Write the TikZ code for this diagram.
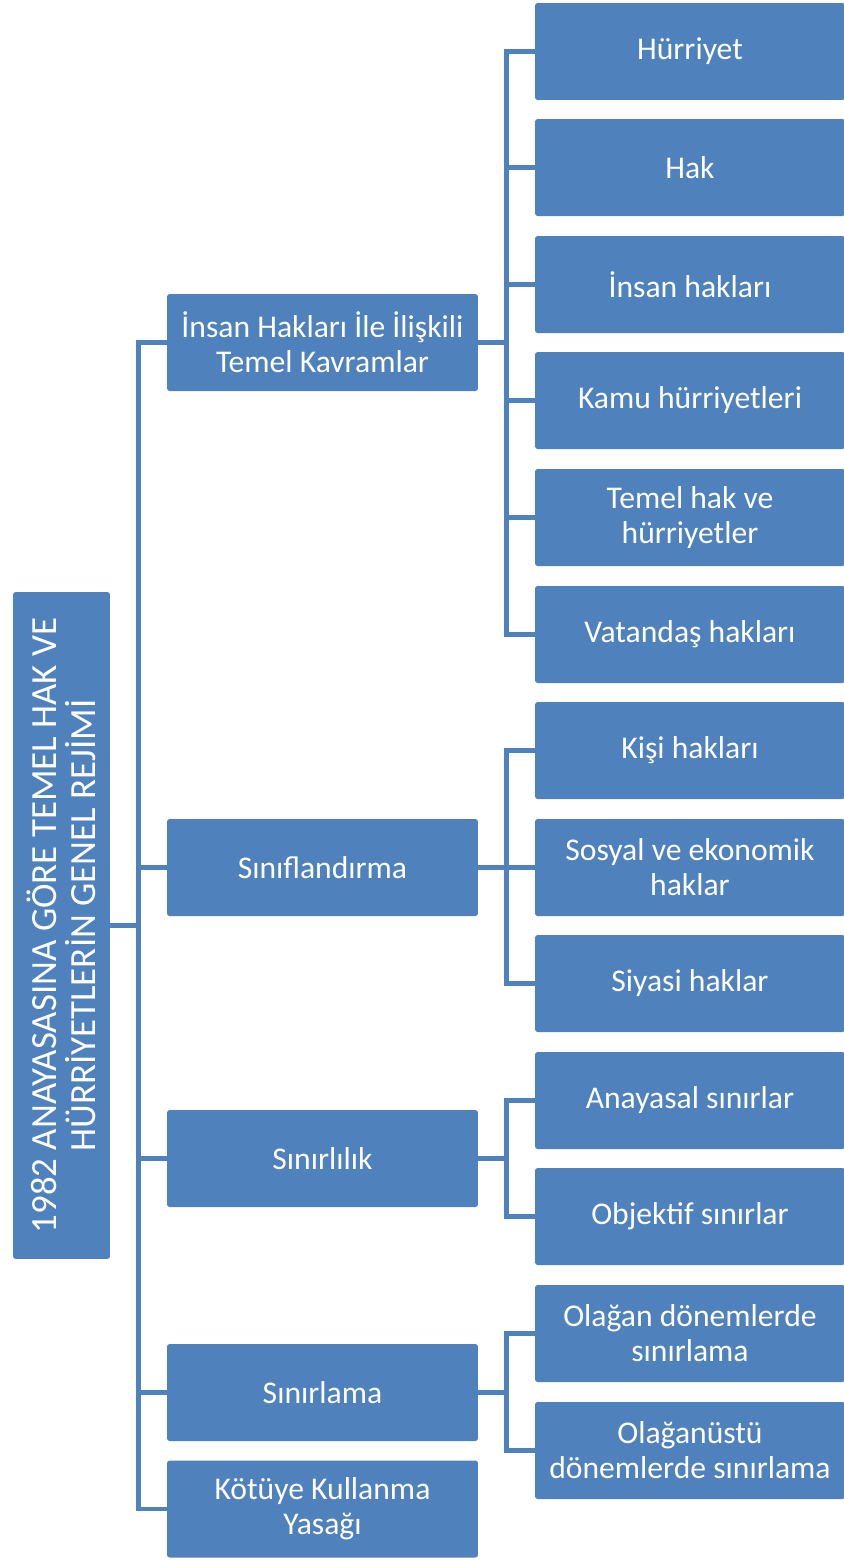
\documentclass[tikz,border=0pt]{standalone}
\usepackage{fontspec}
\setmainfont{Carlito}
\usetikzlibrary{calc}
\definecolor{boxCol}{HTML}{4F81BD}
\definecolor{edgeColor}{HTML}{4F81BD}
\tikzstyle{box}=[fill=boxCol, text=white, rounded corners=1.5pt, align=center, inner sep=0pt, font=\fontsize{18}{19.8}\selectfont]
\tikzstyle{topic}=[box, minimum width=6.22cm, minimum height=1.94cm]
\tikzstyle{leaf}=[box, minimum width=6.2cm, minimum height=1.94cm]
\tikzstyle{connection}=[line width=2.4pt, draw=edgeColor]

\begin{document}
\begin{tikzpicture}[x=0.02cm, y=-0.02cm]
    \useasboundingbox (0,0) rectangle (843,1560);

    % === ROOT ===
    \node[box, rotate=90, minimum width=13.34cm, minimum height=1.94cm, font=\fontsize{21}{22.5}\selectfont] (root) at (61.5,925.5)
        {1982 ANAYASASINA GÖRE TEMEL HAK VE\\HÜRRİYETLERİN GENEL REJİMİ};

    % === TOPICS ===
    \node[topic] (kavram)     at (322.5,342.5)  {İnsan Hakları İle İlişkili\\Temel Kavramlar};
    \node[topic] (sinif)      at (322.5,867.5)  {Sınıflandırma};
    \node[topic] (sinirlilik) at (322.5,1158.5) {Sınırlılık};
    \node[topic] (sinirlama)  at (322.5,1392.5) {Sınırlama};
    \node[topic] (kotuye)     at (322.5,1509)   {Kötüye Kullanma\\Yasağı};

    % === LEAVES ===
    \node[leaf] (hurriyet)   at (690,51.5)   {Hürriyet};
    \node[leaf] (hak)        at (690,167.5)  {Hak};
    \node[leaf] (insan)      at (690,284.5)  {İnsan hakları};
    \node[leaf] (kamu)       at (690,400.5)  {Kamu hürriyetleri};
    \node[leaf] (temel)      at (690,517.5)  {Temel hak ve\\hürriyetler};
    \node[leaf] (vatandas)   at (690,634.5)  {Vatandaş hakları};
    \node[leaf] (kisi)       at (690,750.5)  {Kişi hakları};
    \node[leaf] (sosyal)     at (690,867.5)  {Sosyal ve ekonomik\\haklar};
    \node[leaf] (siyasi)     at (690,983.5)  {Siyasi haklar};
    \node[leaf] (anayasal)   at (690,1100.5) {Anayasal sınırlar};
    \node[leaf] (objektif)   at (690,1216.5) {Objektif sınırlar};
    \node[leaf] (olagan)     at (690,1333.5) {Olağan dönemlerde\\sınırlama};
    \node[leaf] (olaganustu) at (690,1450.5) {Olağanüstü\\dönemlerde sınırlama};

    % ==== CONNECTIONS ====
    % root -> topics
    \foreach \c in {kavram,sinif,sinirlilik,sinirlama,kotuye}
        \draw[connection] (root.south) -| ($(root.south)!0.5!(\c.west)$) |- (\c.west);

    % topic -> leaves
    \foreach \c in {hurriyet,hak,insan,kamu,temel,vatandas}
        \draw[connection] (kavram.east) -| ($(kavram.east)!0.5!(\c.west)$) |- (\c.west);
    \foreach \c in {kisi,sosyal,siyasi}
        \draw[connection] (sinif.east) -| ($(sinif.east)!0.5!(\c.west)$) |- (\c.west);
    \foreach \c in {anayasal,objektif}
        \draw[connection] (sinirlilik.east) -| ($(sinirlilik.east)!0.5!(\c.west)$) |- (\c.west);
    \foreach \c in {olagan,olaganustu}
        \draw[connection] (sinirlama.east) -| ($(sinirlama.east)!0.5!(\c.west)$) |- (\c.west);

\end{tikzpicture}
\end{document}
